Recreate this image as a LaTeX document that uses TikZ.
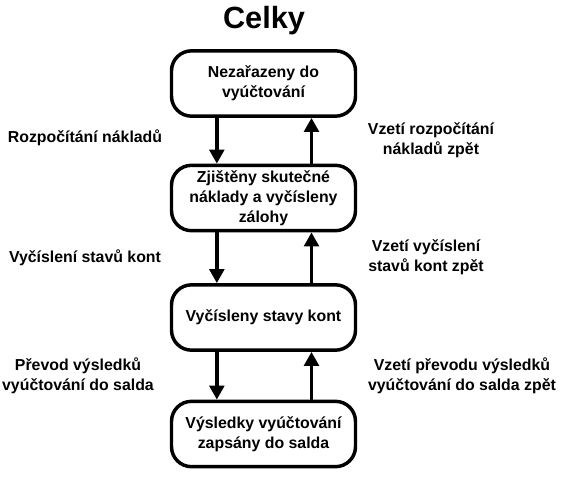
\documentclass[tikz,border=0pt]{standalone}
\usepackage{fontspec}
\setmainfont{Liberation Sans}
\usetikzlibrary{arrows.meta}
\tikzset{
  stav/.style={draw, line width=2.6pt, rounded corners=15pt, minimum width=138pt,
    minimum height=49pt, align=center, inner sep=2pt, font=\bfseries\fontsize{11.9}{15}\selectfont},
  popis/.style={align=center, inner sep=0pt, font=\bfseries\fontsize{11.9}{15}\selectfont},
  prechod/.style={line width=2.6pt, -{Triangle[width=11pt,length=10.5pt]}}
}
\begin{document}
\begin{tikzpicture}[x=0.75pt,y=-0.75pt]
  \useasboundingbox (0,0) rectangle (569,480);
  \node[font=\bfseries\fontsize{23}{26}\selectfont] (nadpis) at (264,21) {Celky};
  % stavy
  \node[stav] (nezar) at (263.5,83.5) {Nezařazeny do\\vyúčtování};
  \node[stav] (zjist) at (263.5,198) {Zjištěny skutečné\\náklady a vyčísleny\\zálohy};
  \node[stav] (vycis) at (263.5,317.5) {Vyčísleny stavy kont};
  \node[stav] (vysl) at (263.5,434) {Výsledky vyúčtování\\zapsány do salda};
  % prechody dolu a zpet
  \draw[prechod] ([xshift=-35pt]nezar.south) -- ([xshift=-35pt]zjist.north);
  \draw[prechod] ([xshift=36pt]zjist.north) -- ([xshift=36pt]nezar.south);
  \draw[prechod] ([xshift=-35pt]zjist.south) -- ([xshift=-35pt]vycis.north);
  \draw[prechod] ([xshift=36pt]vycis.north) -- ([xshift=36pt]zjist.south);
  \draw[prechod] ([xshift=-35pt]vycis.south) -- ([xshift=-35pt]vysl.north);
  \draw[prechod] ([xshift=36pt]vysl.north) -- ([xshift=36pt]vycis.south);
  % popisky
  \node[popis] (rozp) at (85,138) {Rozpočítání nákladů};
  \node[popis] (vzrozp) at (431,140) {Vzetí rozpočítání\\nákladů zpět};
  \node[popis] (vycst) at (85,258) {Vyčíslení stavů kont};
  \node[popis] (vzvycst) at (426,257.5) {Vzetí vyčíslení\\stavů kont zpět};
  \node[popis] (prev) at (78,375.5) {Převod výsledků\\vyúčtování do salda};
  \node[popis] (vzprev) at (462,376) {Vzetí převodu výsledků\\vyúčtování do salda zpět};
\end{tikzpicture}
\end{document}
